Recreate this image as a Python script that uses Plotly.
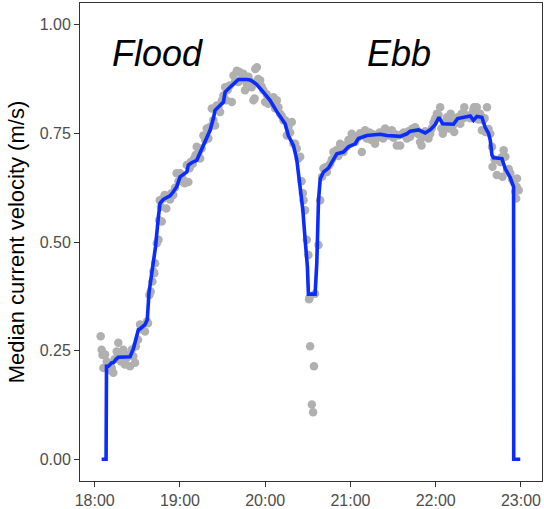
import pandas as pd
import plotly.graph_objects as go

# ---- data (minutes after 18:00, velocity m/s) ----
point_minutes = [4.2, 4.9, 5.5, 6.1, 7.3, 8.5, 9.5, 10.5, 12.0, 13.1, 14.0, 15.5, 16.6, 17.5, 18.5, 20.1, 21.3, 22.5, 23.5, 24.9,
                 26.0, 27.2, 28.4, 29.0, 30.5, 31.9, 33.0, 35.4, 36.8, 37.5, 38.5, 39.4, 40.6, 41.3, 42.0, 42.5, 43.7, 44.9, 45.4, 45.8,
                 46.6, 47.2, 48.2, 49.2, 50.4, 51.6, 53.0, 54.0, 55.3, 56.5, 57.7, 59.0, 60.1, 61.3, 62.5, 63.3, 64.8, 65.9, 66.8, 67.5,
                 69.0, 70.0, 71.0, 71.8, 73.0, 74.2, 75.3, 76.5, 77.7, 78.9, 80.0, 81.2, 82.4, 83.5, 84.7, 85.9, 87.0, 88.2, 89.4, 90.6,
                 91.8, 92.5, 93.6, 95.0, 96.5, 97.7, 98.8, 100.0, 101.1, 102.0, 103.4, 104.6, 105.8, 107.0, 108.2, 109.4, 110.5, 111.7, 112.5, 113.0,
                 114.1, 115.0, 116.4, 117.5, 118.7, 120.0, 121.0, 122.2, 123.4, 124.6, 125.8, 127.0, 128.2, 129.3, 130.5, 131.7, 132.9, 134.0, 135.2, 136.4,
                 137.5, 138.7, 139.9, 141.1, 142.2, 143.4, 144.6, 145.6, 146.5, 147.0, 148.1, 149.3, 150.4, 150.9, 151.1, 151.6, 152.8, 153.7, 154.3, 155.1,
                 157.5, 158.7, 160.0, 161.0, 162.2, 163.4, 164.5, 165.7, 166.9, 168.0, 169.5, 170.5, 171.5, 172.7, 173.9, 175.1, 176.2, 177.4, 178.6, 179.8,
                 180.9, 182.1, 183.3, 184.4, 185.0, 186.8, 188.0, 189.2, 190.3, 191.5, 192.0, 193.5, 194.7, 195.9, 197.3, 198.2, 199.0, 200.5, 201.7, 202.9,
                 204.4, 205.6, 207.0, 208.0, 209.1, 210.3, 211.5, 212.6, 213.8, 215.0, 216.2, 217.4, 218.5, 219.7, 220.9, 222.0, 223.2, 224.4, 225.5, 226.7,
                 227.9, 229.0, 230.0, 231.4, 232.6, 233.7, 234.9, 236.1, 237.3, 238.4, 239.6, 240.8, 242.0, 243.1, 244.0, 245.0, 246.2, 247.0, 248.0, 249.1,
                 250.5, 251.5, 252.5, 253.0, 254.5, 255.5, 256.3, 257.3, 258.2, 259.2, 260.1, 261.0, 262.0, 263.4, 264.6, 265.5, 266.5, 267.0, 268.0, 268.9,
                 270.0, 271.3, 272.5, 273.5, 274.4, 275.0, 276.1, 277.2, 278.4, 279.6, 280.0, 281.5, 283.0, 284.2, 285.4, 286.4, 287.0, 287.8, 289.0, 290.2,
                 291.4, 292.5, 293.6, 294.8, 296.0, 296.6, 297.0, 297.2, 298.4]
point_values = [0.283, 0.252, 0.240, 0.210, 0.241, 0.225, 0.215, 0.205, 0.210, 0.199, 0.230, 0.248, 0.268, 0.240, 0.225, 0.252, 0.218, 0.233, 0.240, 0.214,
                0.252, 0.237, 0.222, 0.260, 0.275, 0.310, 0.300, 0.294, 0.317, 0.313, 0.378, 0.386, 0.409, 0.432, 0.428, 0.451, 0.497, 0.505, 0.550, 0.596,
                0.581, 0.547, 0.600, 0.608, 0.577, 0.604, 0.598, 0.612, 0.608, 0.625, 0.658, 0.640, 0.658, 0.650, 0.642, 0.635, 0.677, 0.638, 0.670, 0.684,
                0.680, 0.692, 0.700, 0.719, 0.705, 0.692, 0.715, 0.745, 0.735, 0.761, 0.738, 0.765, 0.807, 0.780, 0.768, 0.814, 0.810, 0.799, 0.825, 0.837,
                0.856, 0.826, 0.850, 0.860, 0.822, 0.883, 0.870, 0.894, 0.868, 0.891, 0.875, 0.887, 0.849, 0.864, 0.880, 0.870, 0.856, 0.826, 0.830, 0.898,
                0.902, 0.875, 0.872, 0.858, 0.849, 0.822, 0.840, 0.818, 0.830, 0.820, 0.833, 0.808, 0.826, 0.810, 0.795, 0.790, 0.780, 0.780, 0.745, 0.765,
                0.752, 0.776, 0.726, 0.726, 0.715, 0.692, 0.696, 0.640, 0.612, 0.596, 0.573, 0.505, 0.470, 0.368, 0.371, 0.260, 0.126, 0.108, 0.214, 0.381,
                0.493, 0.596, 0.650, 0.669, 0.672, 0.661, 0.675, 0.680, 0.690, 0.707, 0.700, 0.712, 0.698, 0.726, 0.715, 0.707, 0.722, 0.720, 0.735, 0.728,
                0.749, 0.738, 0.730, 0.742, 0.740, 0.750, 0.707, 0.745, 0.757, 0.738, 0.745, 0.752, 0.735, 0.748, 0.726, 0.745, 0.740, 0.752, 0.745, 0.738,
                0.761, 0.748, 0.745, 0.752, 0.757, 0.740, 0.748, 0.722, 0.745, 0.722, 0.748, 0.752, 0.745, 0.738, 0.755, 0.742, 0.760, 0.752, 0.764, 0.758,
                0.748, 0.730, 0.722, 0.742, 0.755, 0.745, 0.738, 0.749, 0.762, 0.775, 0.784, 0.795, 0.792, 0.810, 0.761, 0.749, 0.770, 0.778, 0.787, 0.761,
                0.795, 0.778, 0.770, 0.753, 0.780, 0.787, 0.776, 0.772, 0.795, 0.785, 0.810, 0.792, 0.787, 0.790, 0.785, 0.795, 0.803, 0.810, 0.790, 0.810,
                0.782, 0.795, 0.757, 0.780, 0.785, 0.753, 0.810, 0.760, 0.749, 0.719, 0.673, 0.690, 0.654, 0.688, 0.684, 0.695, 0.650, 0.711, 0.696, 0.665,
                0.668, 0.658, 0.645, 0.638, 0.616, 0.600, 0.627, 0.646, 0.619]

median_minutes = [4.9, 8.0, 8.3, 9.6, 12.0, 13.1, 15.0, 16.6, 24.9, 27.3, 30.7, 31.9, 35.4, 37.0, 38.2, 41.3, 42.8, 44.9, 46.0, 48.3,
                  53.0, 55.2, 57.7, 60.1, 61.7, 64.8, 65.9, 68.5, 71.8, 76.5, 81.2, 83.5, 84.7, 90.6, 91.8, 96.5, 101.1, 107.0, 109.4, 111.7,
                  114.1, 118.7, 123.4, 128.2, 134.0, 136.3, 139.9, 142.2, 144.6, 146.5, 148.1, 149.7, 150.4, 155.1, 156.3, 157.0, 157.5, 158.7, 161.0, 164.5,
                  168.0, 170.4, 175.1, 178.6, 183.3, 185.6, 191.5, 200.9, 205.6, 215.0, 219.7, 222.0, 227.9, 232.6, 236.1, 239.6, 242.3, 244.9, 252.5, 255.4,
                  264.3, 266.6, 269.0, 272.5, 274.8, 277.2, 278.4, 279.6, 280.7, 286.6, 288.9, 292.5, 294.8, 294.9, 299.5]
median_values = [0.0, 0.0, 0.214, 0.214, 0.222, 0.222, 0.230, 0.235, 0.236, 0.255, 0.298, 0.300, 0.310, 0.321, 0.383, 0.450, 0.489, 0.560, 0.589, 0.598,
                 0.606, 0.615, 0.627, 0.650, 0.654, 0.661, 0.677, 0.683, 0.688, 0.722, 0.757, 0.784, 0.803, 0.822, 0.845, 0.860, 0.874, 0.874, 0.873, 0.868,
                 0.862, 0.845, 0.826, 0.800, 0.772, 0.745, 0.722, 0.690, 0.632, 0.573, 0.505, 0.443, 0.380, 0.380, 0.451, 0.528, 0.596, 0.645, 0.661, 0.670,
                 0.692, 0.703, 0.707, 0.719, 0.726, 0.738, 0.745, 0.748, 0.745, 0.743, 0.749, 0.755, 0.758, 0.751, 0.758, 0.770, 0.787, 0.772, 0.771, 0.784,
                 0.790, 0.780, 0.789, 0.787, 0.764, 0.750, 0.734, 0.700, 0.694, 0.692, 0.669, 0.648, 0.627, 0.0, 0.0]

tick_hours = ["18:00", "19:00", "20:00", "21:00", "22:00", "23:00"]
y_ticks = [0.0, 0.25, 0.5, 0.75, 1.0]
phase_labels = ["Flood", "Ebb"]

base = pd.Timestamp("2020-01-01 18:00:00")
def to_time(mins):
    return [base + pd.Timedelta(minutes=m) for m in mins]

fig = go.Figure()
fig.add_trace(go.Scatter(x=to_time(point_minutes), y=point_values, mode="markers",
                         marker=dict(color="#b0b0b0", size=8.5, line=dict(width=0)),
                         showlegend=False, hoverinfo="skip"))
fig.add_trace(go.Scatter(x=to_time(median_minutes), y=median_values, mode="lines",
                         line=dict(color="#0a2cff", width=3.6), showlegend=False))

tickvals = [pd.Timestamp("2020-01-01 " + h) for h in tick_hours]
fig.update_xaxes(range=[base + pd.Timedelta(minutes=-10.35), base + pd.Timedelta(minutes=314.8)],
                 tickvals=tickvals, ticktext=tick_hours, showgrid=False, zeroline=False,
                 showline=True, mirror=True, linecolor="#333333", linewidth=1,
                 ticks="outside", ticklen=5, tickcolor="#333333",
                 tickfont=dict(family="Liberation Sans, Arial", size=16, color="#4d4d4d"),
                 automargin=False)
fig.update_yaxes(range=[-0.05, 1.05], tickvals=y_ticks, tickformat=".2f",
                 showgrid=False, zeroline=False, showline=True, mirror=True,
                 linecolor="#333333", linewidth=1, ticks="outside", ticklen=5, tickcolor="#333333",
                 tickfont=dict(family="Liberation Sans, Arial", size=16, color="#4d4d4d"),
                 title=dict(text="Median current velocity (m/s)", standoff=8,
                            font=dict(family="Liberation Sans, Arial", size=22, color="#000000")),
                 automargin=False)

fig.add_annotation(text=phase_labels[0], x=0.065, y=0.895, xref="paper", yref="paper",
                   xanchor="left", yanchor="middle", showarrow=False,
                   font=dict(family="Liberation Sans, Arial", size=36, color="#000000", style="italic"))
fig.add_annotation(text=phase_labels[1], x=0.617, y=0.895, xref="paper", yref="paper",
                   xanchor="left", yanchor="middle", showarrow=False,
                   font=dict(family="Liberation Sans, Arial", size=36, color="#000000", style="italic"))

fig.update_layout(width=544, height=509, margin=dict(l=80, r=2, t=3, b=28),
                  paper_bgcolor="white", plot_bgcolor="white")
fig.write_html("out.html", config={"displayModeBar": False},
               post_script="document.body.style.margin='0px';")
